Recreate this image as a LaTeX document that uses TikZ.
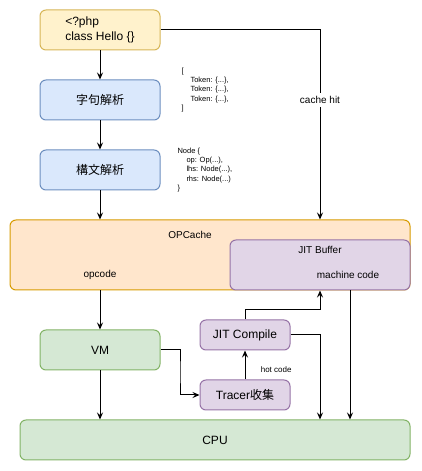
\documentclass[tikz,border=0pt]{standalone}
\usepackage{fontspec}
\setmainfont{Liberation Sans}
\newfontfamily\cjk{Noto Sans CJK JP}
\usetikzlibrary{arrows.meta,calc}
\definecolor{phpfill}{HTML}{FFF2CC}
\definecolor{phpline}{HTML}{D6B656}
\definecolor{stepfill}{HTML}{DAE8FC}
\definecolor{stepline}{HTML}{6C8EBF}
\definecolor{cachefill}{HTML}{FFE6CC}
\definecolor{cacheline}{HTML}{D79B00}
\definecolor{jitfill}{HTML}{E1D5E7}
\definecolor{jitline}{HTML}{9673A6}
\definecolor{runfill}{HTML}{D5E8D4}
\definecolor{runline}{HTML}{82B366}
\begin{document}
\begin{tikzpicture} [x = 1pt, y = 1pt, -> , >= {Stealth[length = 7pt, width = 6pt, inset = 2.5pt]}, line width = 1pt, node distance = 70pt,
    box/.style = {draw, rounded corners = 6pt, minimum width = 120pt, minimum height = 40pt, inner sep = 0pt, font = \fontsize{12}{14.4}\selectfont},
    yellowbox/.style = {box, fill = phpfill, draw = phpline},
    bluebox/.style = {box, fill = stepfill, draw = stepline},
    orangebox/.style = {box, fill = cachefill, draw = cacheline},
    purplebox/.style = {box, fill = jitfill, draw = jitline},
    greenbox/.style = {box, fill = runfill, draw = runline},
    small/.style = {font = \fontsize{10}{12}\selectfont},
    tiny/.style = {font = \fontsize{7.5}{9.3}\selectfont, align = left, inner sep = 0pt}]
        \useasboundingbox (0, 0) rectangle (422, 471);

        \node [yellowbox, align = left] (php) at (100, 441) {<?php\\class Hello \{\}};
        \node [bluebox] (lexer) [below of = php] {\cjk 字句解析};
        \node [bluebox] (parser) [below of = lexer] {\cjk 構文解析};

        \node [tiny, anchor = west] (tokens) at (181, 381) {[\\\hspace*{9pt}Token: \{...\},\\\hspace*{9pt}Token: \{...\},\\\hspace*{9pt}Token: \{...\},\\]};
        \node [tiny, anchor = west] (ast) at (177, 301) {Node \{\\\hspace*{9pt}op: Op(...),\\\hspace*{9pt}lhs: Node(...),\\\hspace*{9pt}rhs: Node(...)\\\}};

        \path (php) edge (lexer);
        \path (lexer) edge (parser);

        \node [orangebox, minimum width = 400pt, minimum height = 70pt] (opcache) at (210, 216) {};
        \node [purplebox, minimum width = 180pt, minimum height = 50pt] (buffer) at (320, 206) {};
        \node [small] (opcachetext) at (190, 236) {OPCache};
        \node [small] (opcodetext) at (100, 196) {opcode};
        \node [small] (buffertext) at (320, 221) {JIT Buffer};
        \node [small] (machinetext) at (348, 196) {machine code};

        \path (parser) edge (parser |- opcache.north);
        \draw (php.east) -| node [pos = 0.684, fill = white, small] {cache hit} (buffer |- opcache.north);

        \node [greenbox] (vm) at (100, 121) {VM};
        \node [purplebox, minimum width = 90pt, minimum height = 30pt] (jit) at (245, 136) {JIT Compile};
        \node [purplebox, minimum width = 90pt, minimum height = 30pt] (tracer) at (245, 76) {Tracer{\cjk 收集}};
        \node [greenbox, minimum width = 390pt] (cpu) at (215, 31) {CPU};

        \path (opcache.south -| vm) edge (vm);
        \path (vm) edge (vm |- cpu.north);
        \draw (vm.east) -| ($(vm.east)!0.5!(tracer.west)$) |- (tracer.west);
        \path (tracer) edge node [pos = 0.35, right = 12pt, font = \fontsize{8}{9.6}\selectfont] {hot code} (jit);
        \draw (jit.north) -- ++(0, 10) -| (buffer.south);
        \draw (jit.east) -| (buffer.south |- cpu.north);
        \draw ([xshift = 30pt] buffer.south) -- ([xshift = 30pt] buffer.south |- cpu.north);

    \end{tikzpicture}
\end{document}
